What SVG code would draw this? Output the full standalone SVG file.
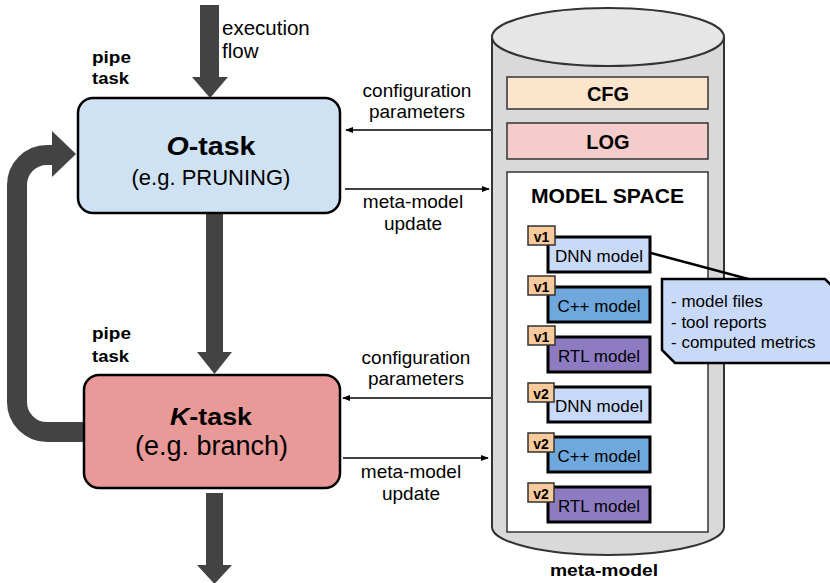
<svg xmlns="http://www.w3.org/2000/svg" width="830" height="583" viewBox="0 0 830 583">
  <defs>
    <marker id="tip" viewBox="0 0 10 10" refX="9" refY="5" markerWidth="8" markerHeight="8" markerUnits="userSpaceOnUse" orient="auto">
      <path d="M0,1 L10,5 L0,9 z" fill="#000"/>
    </marker>
    <style>
      text { font-family: "Liberation Sans", Arial, sans-serif; fill: #000; }
      .b { font-weight: bold; }
      .mid { text-anchor: middle; }
      .flow { fill: #434343; }
      .flowline { fill: none; stroke: #434343; }
      .thin { stroke: #000; stroke-width: 1.5; fill: none; marker-end: url(#tip); }
      .task { stroke: #000; stroke-width: 2.5; }
      .bar { stroke: #333; stroke-width: 1.5; }
      .mdl { stroke: #000; stroke-width: 3; }
      .tag { fill: #f9cb9c; stroke: #333; stroke-width: 1.5; }
      .lbl { font-size: 19px; }
      .mtxt { font-size: 17px; }
      .vtxt { font-size: 14px; font-weight: bold; }
      .pipe { font-size: 17px; font-weight: bold; }
    </style>
  </defs>

  <!-- execution flow arrows and feedback loop -->
  <g id="connectors">
    <!-- incoming execution flow -->
    <rect class="flow" x="200" y="5" width="19" height="73"/>
    <polygon class="flow" points="192,77 228,77 210,98"/>
    <!-- O-task to K-task -->
    <rect class="flow" x="206" y="212" width="17" height="141"/>
    <polygon class="flow" points="197,352 232,352 214.5,374"/>
    <!-- K-task outgoing -->
    <rect class="flow" x="206" y="493" width="17" height="73"/>
    <polygon class="flow" points="197,565 232,565 214.5,584"/>
    <!-- loop back from K-task to O-task -->
    <path class="flowline" stroke-width="20" d="M 90 432 H 47 A 30 30 0 0 1 17 402 V 185 A 30 30 0 0 1 47 155 H 54"/>
    <polygon class="flow" points="52,131 76,154 52,177"/>

    <!-- meta-model interaction, O-task -->
    <line class="thin" x1="491" y1="130" x2="346" y2="130"/>
    <line class="thin" x1="345" y1="189" x2="489" y2="189"/>
    <!-- meta-model interaction, K-task -->
    <line class="thin" x1="491" y1="398" x2="343" y2="398"/>
    <line class="thin" x1="343" y1="458" x2="488" y2="458"/>
  </g>

  <!-- connector labels -->
  <g id="labels">
    <text x="222" y="35" style="font-size:20.5px">execution</text>
    <text x="222" y="58" style="font-size:20.5px">flow</text>
    <text class="pipe" x="92" y="63" textLength="39" lengthAdjust="spacingAndGlyphs">pipe</text>
    <text class="pipe" x="92" y="84" textLength="37" lengthAdjust="spacingAndGlyphs">task</text>
    <text class="pipe" x="92" y="339" textLength="39" lengthAdjust="spacingAndGlyphs">pipe</text>
    <text class="pipe" x="92" y="362" textLength="37" lengthAdjust="spacingAndGlyphs">task</text>

    <text class="lbl mid" x="417" y="97">configuration</text>
    <text class="lbl mid" x="417" y="118">parameters</text>
    <text class="lbl mid" x="413" y="208">meta-model</text>
    <text class="lbl mid" x="413" y="230">update</text>

    <text class="lbl mid" x="416" y="364">configuration</text>
    <text class="lbl mid" x="416" y="385">parameters</text>
    <text class="lbl mid" x="411" y="478">meta-model</text>
    <text class="lbl mid" x="411" y="500">update</text>
  </g>

  <!-- O-task -->
  <g id="o-task">
    <rect class="task" x="78" y="98" width="262" height="115" rx="15" fill="#cfe2f3"/>
    <text class="b mid" x="211" y="155" style="font-size:25px" textLength="89" lengthAdjust="spacingAndGlyphs"><tspan font-style="italic">O</tspan>-task</text>
    <text class="mid" x="211" y="185" style="font-size:22px">(e.g. PRUNING)</text>
  </g>

  <!-- K-task -->
  <g id="k-task">
    <rect class="task" x="84" y="375" width="256" height="113" rx="15" fill="#ea9999"/>
    <text class="b mid" x="211" y="425" style="font-size:24px" textLength="82" lengthAdjust="spacingAndGlyphs"><tspan font-style="italic">K</tspan>-task</text>
    <text class="mid" x="211.5" y="455" style="font-size:27px">(e.g. branch)</text>
  </g>

  <!-- meta-model store -->
  <g id="meta-model">
    <path d="M 492 37 V 527 A 116 28 0 0 0 724 527 V 37 Z" fill="#d9d9d9" stroke="#333" stroke-width="2"/>
    <ellipse cx="608" cy="37" rx="116" ry="29" fill="#e6e6e6" stroke="#333" stroke-width="2"/>
    <text class="b mid" x="604" y="576" style="font-size:17px" textLength="108" lengthAdjust="spacingAndGlyphs">meta-model</text>
  </g>

  <g id="cfg">
    <rect class="bar" x="507" y="77" width="201" height="32" fill="#fce5cd"/>
    <text class="b mid" x="608" y="100.5" style="font-size:20px">CFG</text>
  </g>

  <g id="log">
    <rect class="bar" x="507" y="123" width="201" height="36" fill="#f4cccc"/>
    <text class="b mid" x="608" y="149" style="font-size:20px">LOG</text>
  </g>

  <g id="model-space">
    <rect class="bar" x="507" y="172" width="201" height="360" fill="#fff"/>
    <text class="b mid" x="607.5" y="202.5" style="font-size:19.5px" textLength="153" lengthAdjust="spacingAndGlyphs">MODEL SPACE</text>
  </g>

  <!-- model versions -->
  <g id="dnn-v1">
    <rect class="mdl" x="548" y="237" width="102" height="35" fill="#c9daf8"/>
    <text class="mtxt mid" x="599" y="261.5">DNN model</text>
    <rect class="tag" x="528" y="226" width="27" height="19"/>
    <text class="vtxt mid" x="541.5" y="242">v1</text>
  </g>
  <g id="cpp-v1">
    <rect class="mdl" x="548" y="287" width="102" height="35" fill="#6fa8dc"/>
    <text class="mtxt mid" x="599" y="311.5">C++ model</text>
    <rect class="tag" x="528" y="276" width="27" height="19"/>
    <text class="vtxt mid" x="541.5" y="292">v1</text>
  </g>
  <g id="rtl-v1">
    <rect class="mdl" x="548" y="337" width="102" height="35" fill="#8e7cc3"/>
    <text class="mtxt mid" x="599" y="361.5">RTL model</text>
    <rect class="tag" x="528" y="326" width="27" height="19"/>
    <text class="vtxt mid" x="541.5" y="342">v1</text>
  </g>
  <g id="dnn-v2">
    <rect class="mdl" x="548" y="387" width="102" height="35" fill="#c9daf8"/>
    <text class="mtxt mid" x="599" y="411.5">DNN model</text>
    <rect class="tag" x="528" y="383" width="26" height="19"/>
    <text class="vtxt mid" x="541" y="399">v2</text>
  </g>
  <g id="cpp-v2">
    <rect class="mdl" x="548" y="437" width="102" height="35" fill="#6fa8dc"/>
    <text class="mtxt mid" x="599" y="461.5">C++ model</text>
    <rect class="tag" x="528" y="433" width="26" height="19"/>
    <text class="vtxt mid" x="541" y="449">v2</text>
  </g>
  <g id="rtl-v2">
    <rect class="mdl" x="548" y="487" width="102" height="35" fill="#8e7cc3"/>
    <text class="mtxt mid" x="599" y="511.5">RTL model</text>
    <rect class="tag" x="528" y="483" width="26" height="19"/>
    <text class="vtxt mid" x="541" y="499">v2</text>
  </g>

  <!-- artifact note with its leader to the DNN model -->
  <g id="artifacts">
    <line x1="651" y1="253" x2="752" y2="280" stroke="#000" stroke-width="2.5"/>
    <polygon points="662,279 825,279 832,286 832,363 675,363 662,350" fill="#c9daf8" stroke="#000" stroke-width="2.5"/>
    <text x="671" y="307" style="font-size:17px">- model files</text>
    <text x="671" y="327.5" style="font-size:17px">- tool reports</text>
    <text x="671" y="348" style="font-size:17px">- computed metrics</text>
  </g>
</svg>
